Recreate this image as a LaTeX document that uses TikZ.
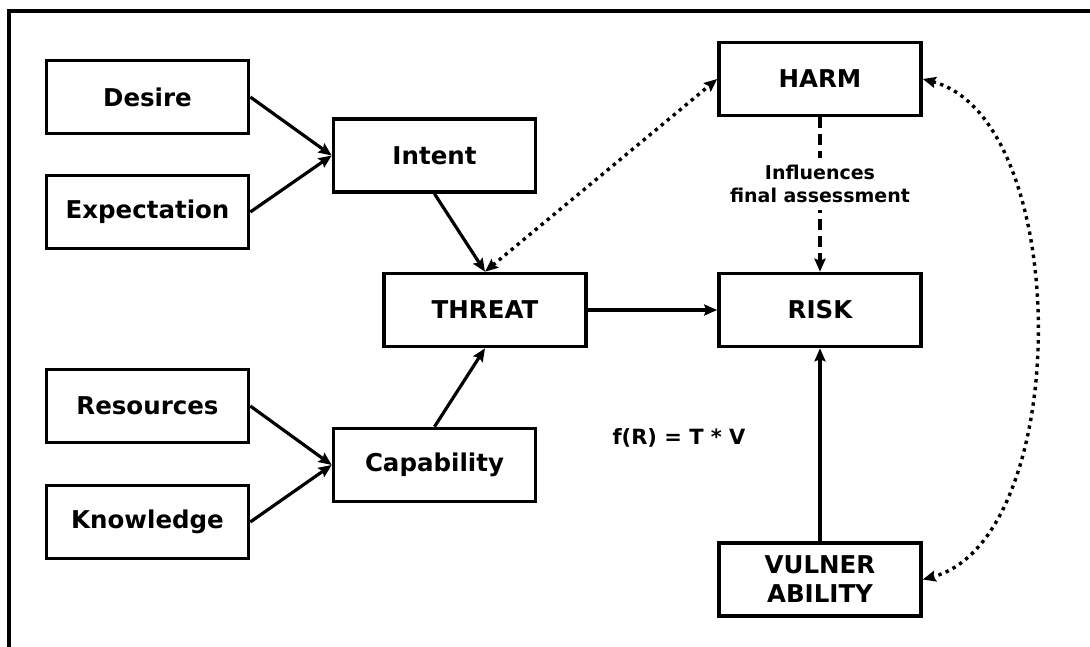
\documentclass[tikz,border=0pt]{standalone}
\usepackage{fontspec}
\setmainfont{DejaVu Sans}
\usetikzlibrary{arrows.meta,positioning}

\begin{document}
\begin{tikzpicture}[x=1pt,y=-1pt,inner sep=0mm,
  >={Stealth[length=13pt,width=11pt,inset=2pt]},
  block/.style={draw,line width=3.6pt,minimum width=202pt,minimum height=73pt,
    align=center,font=\fontsize{24.5}{29}\selectfont\bfseries},
  link/.style={->,line width=3.2pt},
  dots/.style={<->,line width=3.4pt,dash pattern=on 3.4pt off 4.4pt}]
\useasboundingbox (0,0) rectangle (1090,646);
\draw[line width=3.6pt] (9,700) -- (9,11) -- (1200,11);

\node (desire) [block] at (147.5,97) {Desire};
\node (expect) [block] at (147.5,212) {Expectation};
\node (resource) [block] at (147.5,406) {Resources};
\node (know) [block] at (147.5,522) {Knowledge};
\node (intent) [block] at (434.5,155.5) {Intent};
\node (capab) [block] at (434.5,465) {Capability};
\node (threat) [block] at (485,310) {THREAT};
\node (harm) [block] at (820,79) {HARM};
\node (risk) [block] at (820,310) {RISK};
\node (vuln) [block] at (820,579.5) {VULNER\\ABILITY};
\node (formula) [font=\fontsize{21}{25}\selectfont\bfseries] at (679,438) {f(R) = T * V};

\draw[link] (desire.east) -- (intent.west);
\draw[link] (expect.east) -- (intent.west);
\draw[link] (resource.east) -- (capab.west);
\draw[link] (know.east) -- (capab.west);
\draw[link] (intent.south) -- (threat.north);
\draw[link] (capab.north) -- (threat.south);
\draw[link] (threat) -- (risk);
\draw[link] (vuln) -- (risk);
\draw[link,dash pattern=on 11pt off 6pt] (harm) -- node[pos=0.43,fill=white,inner sep=7pt,align=center,
  font=\fontsize{19}{23}\selectfont\bfseries] (influence) {Influences\\final assessment} (risk);

\draw[dots] (threat.north) -- (harm.west);
\draw[dots] (harm.east) to[out=-15,in=15,looseness=0.8] (vuln.east);
\end{tikzpicture}
\end{document}
